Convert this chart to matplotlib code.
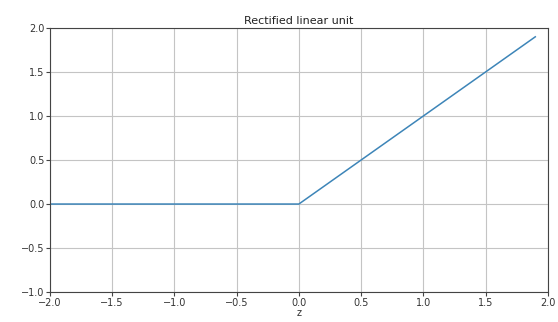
import numpy as np
import matplotlib
matplotlib.use('Agg')
from matplotlib import pyplot as plt

# Data
z = [-2.0, -1.0, 0.0, 1.0, 1.9]
relu = [0.0, 0.0, 0.0, 1.0, 1.9]

x_ticks = [-2.0, -1.5, -1.0, -0.5, 0.0, 0.5, 1.0, 1.5, 2.0]
y_ticks = [-1.0, -0.5, 0.0, 0.5, 1.0, 1.5, 2.0]

fig = plt.figure(figsize=(5.58, 3.22), dpi=100)
ax = fig.add_axes([0.0896, 0.093, 0.892, 0.82])

ax.plot(z, relu, color='#3d85b8', linewidth=1.1)
ax.set_xlim(-2, 2)
ax.set_ylim(-1, 2)
ax.set_xticks(x_ticks)
ax.set_yticks(y_ticks)
ax.tick_params(labelsize=7, length=3, pad=1, labelcolor='#333333', color='#444444')
for s in ax.spines.values():
    s.set_color('#444444')
ax.grid(True, color='#c4c4c4', linewidth=0.8)
ax.set_title('Rectified linear unit', fontsize=8, pad=3, color='#222222')
ax.set_xlabel('z', fontsize=7, labelpad=0, color='#333333')

fig.savefig('out.png', dpi=100)
